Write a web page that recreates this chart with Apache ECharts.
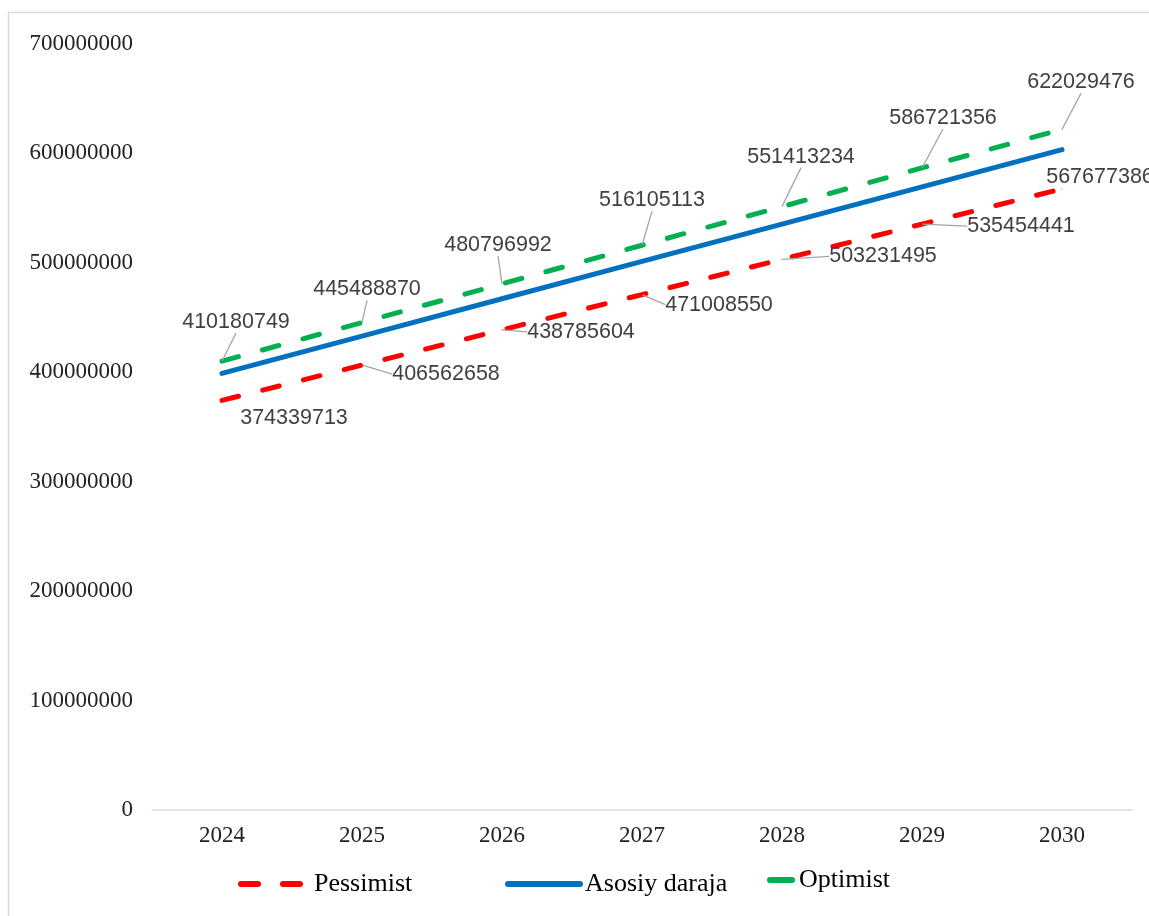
<!DOCTYPE html>
<html>
<head>
<meta charset="utf-8">
<script src="https://cdn.jsdelivr.net/npm/echarts@6/dist/echarts.min.js"></script>
<style>html,body{margin:0;padding:0;background:#fff;}#c{width:1149px;height:916px;}</style>
</head>
<body>
<div id="c"></div>
<script>
const categories = ['2024','2025','2026','2027','2028','2029','2030'];
const pessimist = [374339713, 406562658, 438785604, 471008550, 503231495, 535454441, 567677386];
const asosiy = [399000000, 433100000, 467200000, 501300000, 535400000, 569400000, 603500000];
const optimist = [410180749, 445488870, 480796992, 516105113, 551413234, 586721356, 622029476];
const yTicks = [0, 100000000, 200000000, 300000000, 400000000, 500000000, 600000000, 700000000];

// label placement (offsets from the point, in px)
const optShift = [[14,-39],[5,-33],[-4,-39],[10,-45],[19,-50],[21,-50],[19,-47]];
const pesShift = [[72,18],[84,9],[79,2],[77,10],[101,-3],[99,2],[38,-12]];
const pesLine = [false,true,true,true,true,true,false];

const chart = echarts.init(document.getElementById('c'));
const labelFont = {fontFamily:'"Liberation Sans", Arial, sans-serif', fontSize:21.5, color:'#404040'};
const serif = '"Liberation Serif", "Times New Roman", serif';

function mkSeries(name, data, color, dashed, shift, lineFlags, z){
  const s = {
    name: name, type:'line', z: z,
    data: data.map((v,i) => (lineFlags && !lineFlags[i]) ? {value:v, labelLine:{show:false}} : v),
    symbol:'circle', symbolSize:1, showSymbol:true,
    itemStyle:{color:color},
    lineStyle:{color:color, width:5, type: dashed ? [17,25] : 'solid', cap:'round'},
    emphasis:{disabled:true},
    animation:false
  };
  if (shift){
    s.label = Object.assign({show:true, position:'inside', formatter: p => String(p.value)}, labelFont);
    s.labelLine = {show:true, lineStyle:{color:'#a6a6a6', width:1.3}, length2:0};
    s.labelLayout = function(params){
      const d = shift[params.dataIndex];
      return {dx:d[0], dy:d[1], hideOverlap:false};
    };
  }
  return s;
}

const legendCommon = {top:871, itemHeight:16, orient:'horizontal', padding:0,
  itemStyle:{opacity:0},
  textStyle:{fontFamily:serif, fontSize:26, color:'#000'}, itemGap:4};

chart.setOption({
  animation:false,
  backgroundColor:'#fff',
  grid:{left:152, right:17, top:44, bottom:106, containLabel:false},
  xAxis:{type:'category', data:categories, boundaryGap:true,
    axisLine:{lineStyle:{color:'#d9d9d9', width:1.5}}, axisTick:{show:false},
    axisLabel:{fontFamily:serif, fontSize:23, color:'#222', margin:14}},
  yAxis:{type:'value', min:0, max:700000000, interval:100000000,
    axisLine:{show:false}, axisTick:{show:false}, splitLine:{show:false},
    axisLabel:{fontFamily:serif, fontSize:23, color:'#222', margin:19,
      formatter: v => String(v)}},
  legend:[
    Object.assign({}, legendCommon, {left:238, data:['Pessimist'], itemWidth:68,
      lineStyle:{width:6, type:[17,25], cap:'round'}}),
    Object.assign({}, legendCommon, {left:505, data:['Asosiy daraja'], itemWidth:72,
      lineStyle:{width:6, cap:'round'}}),
    Object.assign({}, legendCommon, {left:767, top:867, data:['Optimist'], itemWidth:24,
      lineStyle:{width:6, type:[22,30], cap:'round'}})
  ],
  series:[
    mkSeries('Pessimist', pessimist, '#FF0000', true, pesShift, pesLine, 3),
    mkSeries('Asosiy daraja', asosiy, '#0070C0', false, null, null, 2),
    mkSeries('Optimist', optimist, '#00B050', true, optShift, null, 4)
  ],
  graphic:[
    {type:'line', shape:{x1:8.5, y1:12, x2:8.5, y2:916}, style:{stroke:'#d9d9d9', lineWidth:1.5}, silent:true},
    {type:'line', shape:{x1:8, y1:12.5, x2:1149, y2:12.5}, style:{stroke:'#d9d9d9', lineWidth:1.5}, silent:true}
  ]
});
</script>
</body>
</html>
